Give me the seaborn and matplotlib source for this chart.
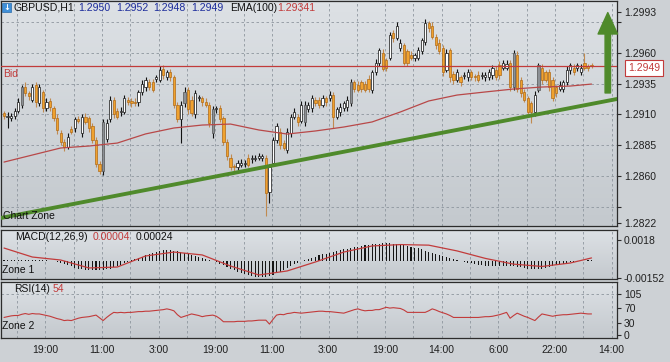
import numpy as np
import matplotlib
matplotlib.use("Agg")
import matplotlib.pyplot as plt
import seaborn as sns
from matplotlib.colors import LinearSegmentedColormap
from matplotlib.patches import Rectangle

# ---- data (prices in pips above 1.2800, one entry per H1 candle) ----
opens = [111, 108, 107, 109, 113, 118, 132, 127, 122, 134,
         119, 128, 115, 121, 115, 107, 95, 88, 84, 98,
         99, 106, 95, 108, 107, 101, 89, 70, 64, 90,
         106, 122, 113, 112, 112, 122, 121, 120, 120, 128,
         132, 136, 136, 139, 138, 147, 140, 144, 140, 118,
         106, 119, 130, 122, 110, 123, 123, 120, 118, 95,
         114, 115, 107, 88, 75, 68, 67, 69, 70, 75,
         74, 74, 75, 75, 75, 47, 71, 89, 96, 87,
         81, 95, 108, 108, 105, 104, 114, 115, 122, 122,
         118, 123, 123, 126, 108, 112, 115, 116, 119, 136,
         134, 136, 135, 139, 130, 144, 152, 160, 154, 156,
         176, 172, 164, 166, 161, 158, 156, 156, 161, 169,
         184, 182, 173, 168, 164, 146, 162, 143, 138, 140,
         141, 140, 144, 141, 142, 141, 140, 140, 142, 146,
         150, 148, 148, 152, 132, 158, 138, 128, 123, 119,
         112, 130, 148, 144, 144, 138, 132, 131, 131, 136,
         146, 148, 148, 144, 152, 149, 150]
closes = [109, 109, 109, 113, 120, 132, 127, 125, 132, 120,
          132, 115, 120, 116, 107, 97, 88, 84, 92, 96,
          106, 105, 108, 104, 99, 89, 70, 64, 104, 103,
          122, 110, 108, 113, 123, 120, 119, 119, 128, 135,
          138, 132, 130, 140, 146, 142, 144, 140, 118, 106,
          118, 128, 114, 111, 127, 124, 120, 118, 103, 114,
          115, 106, 88, 76, 67, 67, 71, 71, 71, 69,
          75, 75, 76, 76, 46, 67, 89, 101, 85, 83,
          96, 108, 112, 104, 118, 118, 118, 123, 119, 118,
          123, 120, 126, 108, 114, 116, 119, 122, 136, 131,
          130, 131, 130, 131, 144, 152, 162, 147, 148, 174,
          172, 182, 168, 152, 152, 156, 158, 162, 170, 184,
          180, 173, 166, 161, 144, 160, 140, 138, 144, 136,
          142, 144, 140, 140, 138, 142, 142, 144, 148, 140,
          142, 152, 151, 132, 160, 131, 127, 122, 112, 112,
          126, 150, 138, 138, 132, 123, 127, 134, 136, 146,
          150, 144, 150, 148, 148, 148, 149]
wick_up = [2, 3, 2, 2, 3, 2, 4, 2, 3, 2,
           3, 2, 3, 2, 2, 3, 2, 2, 3, 3,
           2, 3, 2, 3, 2, 2, 3, 2, 2, 3,
           3, 2, 2, 3, 3, 2, 2, 3, 2, 3,
           2, 3, 3, 2, 3, 3, 2, 3, 2, 2,
           3, 4, 2, 3, 3, 2, 2, 3, 2, 3,
           2, 3, 2, 2, 3, 2, 2, 3, 2, 3,
           2, 2, 3, 2, 2, 3, 3, 2, 3, 2,
           3, 2, 3, 2, 3, 3, 2, 3, 2, 2,
           3, 2, 3, 2, 2, 3, 2, 3, 3, 2,
           3, 2, 2, 3, 2, 3, 2, 3, 2, 3,
           2, 3, 3, 2, 2, 3, 2, 3, 2, 3,
           2, 3, 2, 3, 2, 3, 2, 2, 3, 2,
           2, 3, 2, 2, 3, 2, 2, 3, 2, 3,
           3, 2, 3, 2, 2, 3, 2, 3, 2, 2,
           3, 2, 3, 2, 3, 2, 2, 3, 2, 3,
           2, 3, 2, 3, 8, 2, 2]
wick_dn = [3, 9, 2, 3, 2, 3, 2, 3, 2, 4,
           2, 3, 2, 3, 2, 3, 3, 4, 2, 2,
           3, 2, 3, 2, 3, 2, 3, 2, 3, 2,
           2, 3, 2, 3, 2, 2, 3, 2, 3, 2,
           3, 2, 2, 3, 2, 3, 2, 3, 3, 2,
           19, 3, 4, 2, 3, 2, 3, 2, 3, 4,
           3, 2, 3, 3, 2, 3, 2, 2, 3, 2,
           3, 2, 2, 3, 18, 9, 3, 2, 3, 2,
           2, 3, 2, 3, 2, 3, 2, 3, 2, 3,
           2, 3, 2, 9, 2, 3, 2, 3, 2, 3,
           2, 3, 2, 3, 3, 2, 3, 2, 3, 2,
           3, 2, 3, 2, 3, 2, 3, 2, 2, 3,
           3, 2, 3, 2, 3, 2, 4, 3, 2, 3,
           2, 3, 2, 3, 2, 2, 3, 2, 3, 2,
           3, 2, 2, 3, 2, 3, 3, 2, 3, 9,
           3, 2, 3, 2, 3, 2, 3, 2, 3, 2,
           3, 2, 3, 2, 2, 3, 1]
gray_bars = [5, 28, 51, 59, 85, 98, 144, 151]

ema_idx = [0, 8, 16, 24, 32, 40, 48, 56, 64, 72, 80, 88, 96, 104,
           112, 120, 128, 136, 144, 152, 160, 166]
ema_pips = [71.4, 77.1, 82.8, 84.4, 86.8, 94.2, 99.0, 101.4, 102.2, 97.4, 94.1,
            96.6, 99.8, 103.9, 112.0, 120.9, 125.7, 128.2, 130.6, 132.2, 133.0, 134.6]
bid_pips = 149
trend_idx = [-1.1, 173.2]
trend_pips = [26.0, 122.5]

# MACD main (histogram) and signal, in units of 1e-5
macd_main = [6, 6, 5, 5, 5, 4, 4, 4, 3, 3, 3, 2, 2, 1,
             -5, -12, -20, -30, -40, -50, -60,
             -68, -74, -78, -80, -82, -82, -80, -78, -74,
             -68, -58, -46, -34, -22, -10,
             4, 12, 22, 34, 46, 56, 66, 76, 84, 90, 93, 92, 88, 82, 76, 68, 60, 50, 42, 34, 26, 18, 10,
             -4, -14, -26, -40, -54, -68, -82, -94, -106, -116, -124, -132, -138, -141, -141, -140,
             -134, -124, -110, -94, -78, -62, -46, -30,
             -16, -4, 6, 16, 26,
             36, 46, 54, 62, 70, 78, 86, 92, 98, 104, 110, 116, 122, 128, 134, 138, 142, 146,
             148, 150, 150, 150, 148, 146, 142,
             136, 130, 122, 114, 106, 98, 88, 78, 68, 58, 48, 38, 28, 20, 12, 4,
             -4, -10, -16, -22, -28, -34, -40, -44, -48, -50, -50, -48, -46, -44, -44, -46,
             -52, -58, -64, -70, -74, -76, -74, -70, -64, -56, -48, -40, -32, -26, -20, -14,
             -10, -6, -2, 0, 2, 4]
signal_idx = [0, 8, 16, 24, 32, 40, 48, 56, 64, 72, 80, 88, 96, 104,
              112, 120, 128, 136, 144, 152, 160, 166]
signal_vals = [110, 32, 6, -63, -55, 41, 75, 50, -46, -124, -89, -11, 75, 128,
               140, 135, 85, 20, -30, -50, -20, 24]

rsi_vals = [45, 47, 49, 50, 50, 53, 55, 53, 55, 54,
            54, 52, 50, 48, 45, 42, 40, 37, 38, 37,
            40, 43, 45, 46, 47, 49, 51, 44, 37, 45,
            52, 58, 57, 58, 57, 58, 58, 59, 60, 60,
            61, 61, 62, 63, 64, 65, 67, 65, 62, 52,
            45, 48, 51, 54, 52, 50, 47, 49, 50, 51,
            48, 42, 34, 34, 34, 34, 35, 35, 35, 36,
            36, 37, 38, 38, 38, 28, 40, 51, 53, 52,
            55, 56, 58, 57, 56, 57, 58, 59, 60, 61,
            61, 60, 60, 59, 58, 57, 56, 59, 62, 65,
            67, 64, 62, 63, 63, 65, 65, 68, 71, 69,
            70, 69, 68, 64, 58, 58, 58, 58, 58, 58,
            62, 67, 64, 60, 57, 54, 50, 45, 45, 45,
            45, 45, 45, 45, 45, 46, 47, 47, 48, 50,
            52, 55, 58, 43, 50, 56, 52, 48, 45, 41,
            37, 46, 54, 52, 50, 48, 50, 51, 52, 52,
            53, 54, 55, 56, 55, 54, 54]

time_labels = ["19:00", "11:00", "3:00", "19:00", "11:00", "3:00",
               "19:00", "14:00", "6:00", "22:00", "14:00"]
price_ticks = [1.2822, 1.2835, 1.2860, 1.2885, 1.2910, 1.2935, 1.2960, 1.2985, 1.2993]
price_labels = ["1.2822", "", "1.2860", "1.2885", "1.2910", "1.2935", "1.2960", "", "1.2993"]

# ---- style ----
W, H = 670, 362
sns.set_theme(style="white")
plt.rcParams["font.family"] = ["Liberation Sans Narrow", "Liberation Sans", "DejaVu Sans"]
plt.rcParams["font.size"] = 7.5

BG = "#cdd1d5"
GRID = "#8e969e"
SPINE = "#2c2c2c"
RED = "#c23b3b"
ORANGE = "#f0a22e"
GREEN = "#4f8a2b"
bg_cmap = LinearSegmentedColormap.from_list("bg", ["#dde1e5", "#c4c9ce"])


def to_price(p):
    return 1.28 + np.asarray(p, dtype=float) / 1e4


def panel(top_px, bot_px):
    return fig.add_axes([1 / W, 1 - bot_px / H, 616 / W, (bot_px - top_px) / H])


def shade(ax):
    x0, x1 = ax.get_xlim()
    y0, y1 = ax.get_ylim()
    ax.imshow(np.linspace(0, 1, 64).reshape(-1, 1), extent=[x0, x1, y0, y1],
              aspect="auto", cmap=bg_cmap, origin="upper", zorder=0)
    ax.set_xlim(x0, x1)
    ax.set_ylim(y0, y1)
    for s in ax.spines.values():
        s.set_color(SPINE)
        s.set_linewidth(0.9)


fig = plt.figure(figsize=(W / 100, H / 100), dpi=100, facecolor=BG)
n = len(closes)
idx = np.arange(n)
xlim = (-0.85, 173.2)
vgrid = np.arange(3.7, 173, 8)
label_pos = 11.6 + 16 * np.arange(len(time_labels))

# ---- main price panel ----
ax = panel(1, 226)
ax.set_xlim(*xlim)
ax.set_ylim(to_price(19.6), to_price(201.9))
shade(ax)
for g in [1.2835, 1.2860, 1.2885, 1.2910, 1.2935, 1.2960, 1.2985]:
    ax.axhline(g, color=GRID, lw=0.6, ls=(0, (3, 3)), zorder=1)
for v in vgrid:
    ax.axvline(v, color=GRID, lw=0.6, ls=(0, (3, 3)), zorder=1)

o = to_price(opens)
c = to_price(closes)
hi = np.maximum(o, c) + np.asarray(wick_up) / 1e4
lo = np.minimum(o, c) - np.asarray(wick_dn) / 1e4
bull = c >= o
body_col = np.where(bull, "white", ORANGE).astype(object)
edge_col = np.where(bull, "#111111", "#b06a18").astype(object)
wick_col = np.where(bull, "#111111", "#c08a50").astype(object)
for g in gray_bars:
    body_col[g] = "#8c9095"
    edge_col[g] = "#555555"
ax.vlines(idx, lo, hi, colors=list(wick_col), lw=0.8, zorder=3)
ax.bar(idx, np.maximum(np.abs(c - o), 0.00004), bottom=np.minimum(o, c), width=0.62,
       color=list(body_col), edgecolor=list(edge_col), linewidth=0.5, zorder=4)

sns.lineplot(x=ema_idx, y=to_price(ema_pips), ax=ax, color="#b84848", lw=0.9,
             estimator=None, zorder=5)
ax.axhline(to_price(bid_pips), color=RED, lw=0.9, zorder=5)
sns.lineplot(x=trend_idx, y=to_price(trend_pips), ax=ax, color=GREEN, lw=2.8,
             estimator=None, zorder=6)
ax.annotate("", xy=(170.6, to_price(192.5)), xytext=(170.6, to_price(127.4)),
            arrowprops=dict(arrowstyle="simple,head_length=1.1,head_width=1.0,tail_width=0.28",
                            color=GREEN, mutation_scale=14, shrinkA=0, shrinkB=0), zorder=7)

ax.yaxis.tick_right()
ax.set_yticks(price_ticks)
ax.set_yticklabels(price_labels)
ax.set_xticks([])
ax.tick_params(axis="y", length=3, width=0.8, color=SPINE, pad=2, labelsize=7.5,
               right=True, labelcolor="#202020")

# ---- MACD panel ----
ax2 = panel(230, 279)
ax2.set_xlim(*xlim)
ax2.set_ylim(-158.9e-5, 266.6e-5)
shade(ax2)
for v in vgrid:
    ax2.axvline(v, color=GRID, lw=0.6, ls=(0, (3, 3)), zorder=1)
ax2.bar(idx, np.asarray(macd_main) * 1e-5, width=0.3, color="#151515",
        edgecolor="none", linewidth=0, zorder=3)
sns.lineplot(x=signal_idx, y=np.asarray(signal_vals) * 1e-5, ax=ax2, color=RED, lw=0.9,
             estimator=None, zorder=4)
ax2.yaxis.tick_right()
ax2.set_yticks([0.0018, -0.00152])
ax2.set_yticklabels(["0.0018", "-0.00152"])
ax2.set_xticks([])
ax2.tick_params(axis="y", length=3, width=0.8, color=SPINE, pad=2, labelsize=7.5,
                right=True, labelcolor="#202020")

# ---- RSI panel ----
ax3 = panel(282, 338)
ax3.set_xlim(*xlim)
ax3.set_ylim(-7.7, 135.9)
shade(ax3)
for v in vgrid:
    ax3.axvline(v, color=GRID, lw=0.6, ls=(0, (3, 3)), zorder=1)
ax3.axhline(105, color=GRID, lw=0.6, ls=(0, (3, 3)), zorder=1)
sns.lineplot(x=idx, y=rsi_vals, ax=ax3, color=RED, lw=0.8, estimator=None, zorder=4)
ax3.yaxis.tick_right()
ax3.set_yticks([0, 30, 70, 105])
ax3.set_yticklabels(["0", "30", "70", "105"])
ax3.set_xticks(label_pos)
ax3.set_xticklabels(time_labels)
ax3.tick_params(axis="y", length=3, width=0.8, color=SPINE, pad=2, labelsize=7.5,
                right=True, labelcolor="#202020")
ax3.tick_params(axis="x", length=0, pad=5, labelsize=7.5, labelcolor="#202020")
for a in (ax, ax2, ax3):
    a.set_xlabel("")
    a.set_ylabel("")


# ---- texts ----
def ftext(x, y, s, color="#111111", size=7.5, **kw):
    fig.text(x / W, 1 - y / H, s, color=color, fontsize=size, va="center", **kw)


fig.patches.append(Rectangle((2 / W, 1 - 12 / H), 9 / W, 9 / H, transform=fig.transFigure,
                             facecolor="#3f8fd8", edgecolor="#2a6aa8", lw=0.5, zorder=10))
fig.text(6.5 / W, 1 - 7.5 / H, "\u2193", color="white", fontsize=6, ha="center", va="center",
         family="DejaVu Sans", weight="bold", zorder=11)
ftext(13, 8, "GBPUSD,H1", size=7.6)
for xx, s in zip([78, 116, 153, 191], ["1.2950", "1.2952", "1.2948", "1.2949"]):
    ftext(xx, 8, s, color="#1c2c9c", size=7.6)
ftext(230, 8, "EMA(100)", size=7.6)
ftext(277, 8, "1.29341", color=RED, size=7.6)
ftext(3, 74, "Bid", color=RED)
ftext(3, 216, "Chart Zone")
ftext(15, 237, "MACD(12,26,9)")
ftext(93, 237, "0.00004", color=RED)
ftext(136, 237, "0.00024")
ftext(2, 270, "Zone 1")
ftext(14, 289, "RSI(14)")
ftext(53, 289, "54", color=RED)
ftext(2, 326, "Zone 2")

fig.text(644 / W, 1 - 68 / H, "1.2949", color=RED, fontsize=7.5, ha="center", va="center",
         bbox=dict(boxstyle="square,pad=0.25", facecolor="white", edgecolor=RED, lw=0.8),
         zorder=12)

fig.savefig("out.png", dpi=100, facecolor=BG)
